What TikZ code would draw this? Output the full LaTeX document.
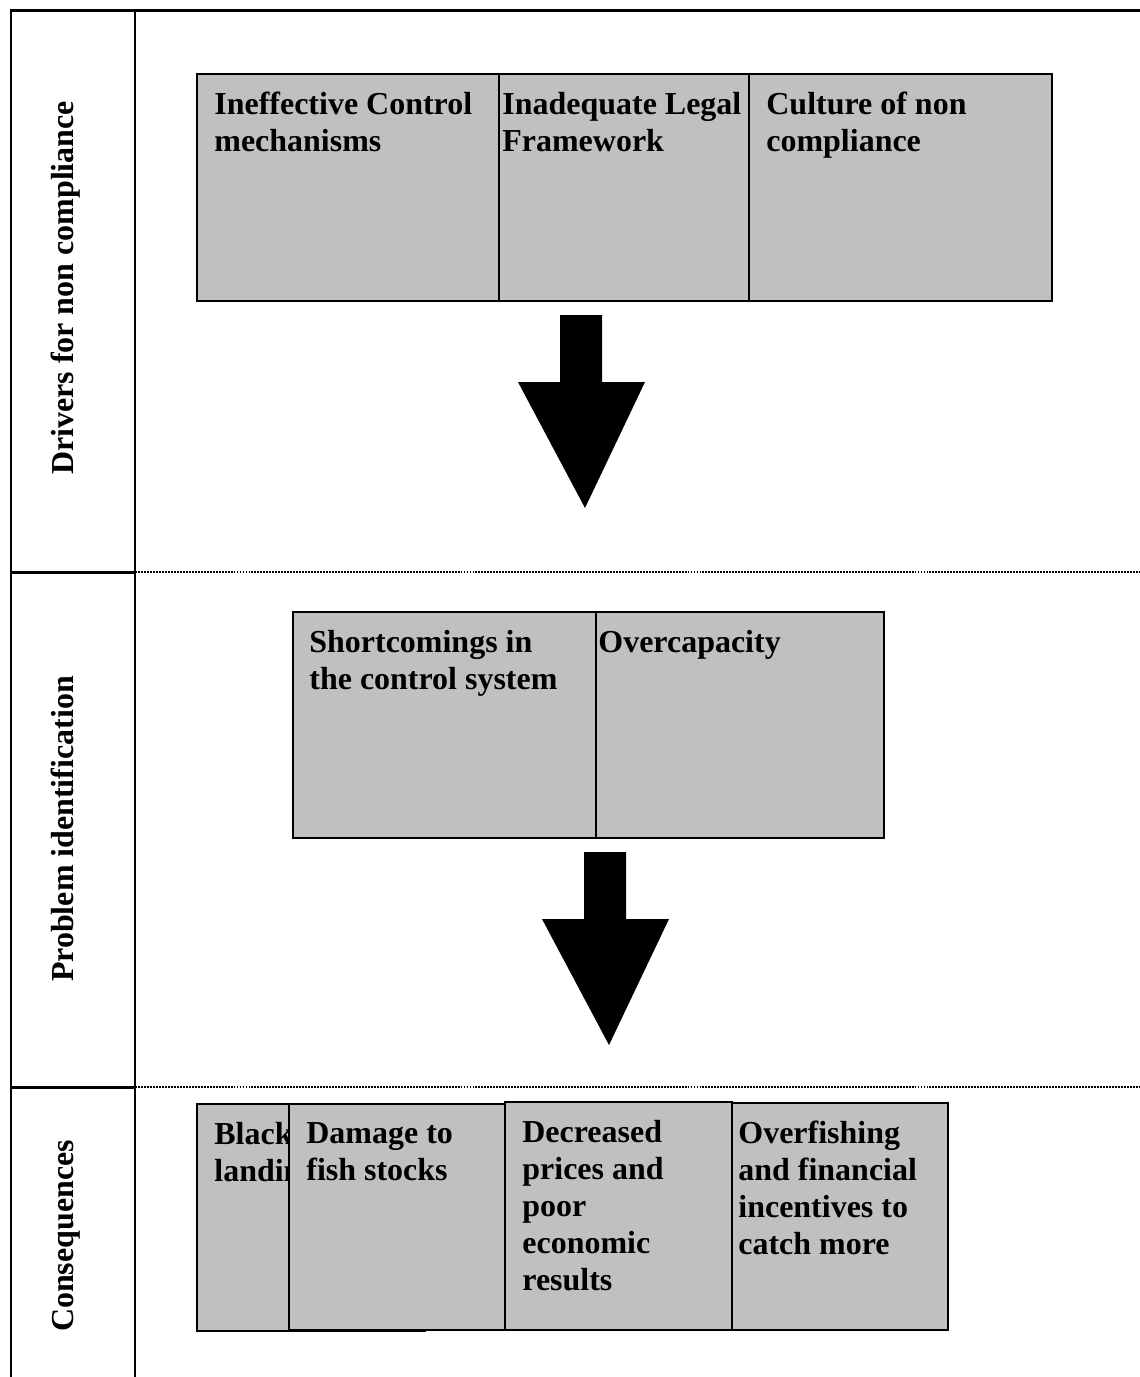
\documentclass[tikz,border=0pt]{standalone}
\usepackage{fontspec}
\setmainfont{Liberation Serif}
\usetikzlibrary{fit}
\definecolor{boxgray}{HTML}{C0C0C0}
\newcommand{\cellfont}{\fontsize{18.2pt}{21pt}\selectfont\bfseries}
\tikzset{
  frame/.style={line width=1.7pt},
  rowline/.style={line width=1.1pt, dash pattern=on 1.1pt off 0.6pt},
  cellbox/.style={draw, line width=1.1pt, fill=boxgray, inner sep=0pt},
  celltext/.style={anchor=north west, inner sep=0pt, align=left, font=\cellfont},
  rowlabel/.style={rotate=90, anchor=base, inner sep=0pt, font=\cellfont}
}

\begin{document}
\begin{tikzpicture}[x=0.02cm, y=-0.02cm]
  \useasboundingbox (0,0) rectangle (1140,1377);
  % table frame
  \draw [frame] (1140,10) -- (11,10) -- (11,1377);
  \draw [frame] (135,10) -- (135,1377);
  \draw [frame] (11,572) -- (135,572);
  \draw [frame] (11,1087) -- (135,1087);
  \draw [rowline] (135,572) -- (1140,572);
  \draw [rowline] (135,1087) -- (1140,1087);

  \node [rowlabel] (drivers) at (73,288) {Drivers for non compliance};
  \node [rowlabel] (problem) at (73,829) {Problem identification};
  \node [rowlabel] (conseq) at (73,1236) {Consequences};

  % drivers
  \node [cellbox, fit={(197,74) (500,301)}] (ctrlbox) {};
  \node [celltext] (ctrl) at ([shift={(18,19)}]ctrlbox.north west) {Ineffective Control\\mechanisms};
  \node [cellbox, fit={(499,74) (750,301)}] (legalbox) {};
  \node [celltext] (legal) at ([shift={(4,19)}]legalbox.north west) {Inadequate Legal\\Framework};
  \node [cellbox, fit={(749,74) (1052,301)}] (culturebox) {};
  \node [celltext] (culture) at ([shift={(18,19)}]culturebox.north west) {Culture of non\\compliance};

  % problems
  \node [cellbox, fit={(293,612) (596,838)}] (shortbox) {};
  \node [celltext] (short) at ([shift={(17,19)}]shortbox.north west) {Shortcomings in\\the control system};
  \node [cellbox, fit={(596,612) (884,838)}] (overcapbox) {};
  \node [celltext] (overcap) at ([shift={(3,19)}]overcapbox.north west) {Overcapacity};

  % consequences
  \node [cellbox, fit={(197,1104) (425,1331)}] (blackbox) {};
  \node [celltext] (black) at ([shift={(18,19)}]blackbox.north west) {Black\\landing};
  \node [cellbox, fit={(289,1104) (517,1330)}] (damagebox) {};
  \node [celltext] (damage) at ([shift={(18,19)}]damagebox.north west) {Damage to\\fish stocks};
  \node [cellbox, fit={(505,1102) (732,1330)}] (pricebox) {};
  \node [celltext] (price) at ([shift={(18,19)}]pricebox.north west) {Decreased\\prices and\\poor\\economic\\results};
  \node [cellbox, fit={(732,1103) (948,1330)}] (overfishbox) {};
  \node [celltext] (overfish) at ([shift={(7,19)}]overfishbox.north west) {Overfishing\\and financial\\incentives to\\catch more};

  % block arrows
  \foreach \ax/\ay in {560/315, 584/852}
    \fill (\ax,\ay) -- ++(42,0) -- ++(0,67) -- ++(43,0) -- ++(-60,126)
      -- ++(-67,-126) -- ++(42,0) -- cycle;
\end{tikzpicture}
\end{document}
